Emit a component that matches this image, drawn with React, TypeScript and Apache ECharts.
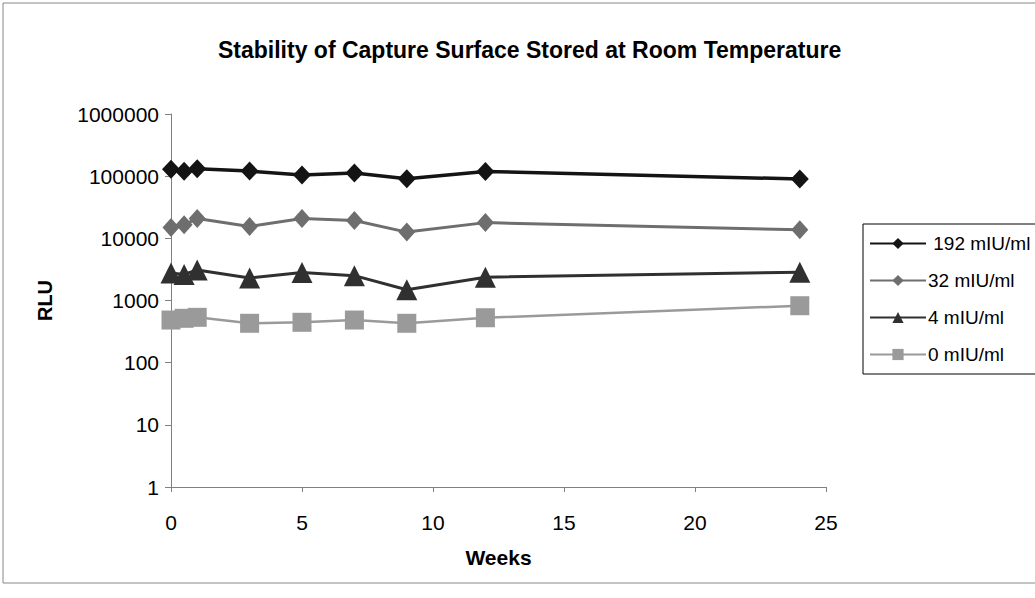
import React, { useEffect, useRef } from "react";
import * as echarts from "echarts";

const weeks = [0, 0.5, 1, 3, 5, 7, 9, 12, 24];
const s192 = [129000, 119700, 132000, 120700, 104000, 112000, 90700, 119000, 90000];
const s32 = [15000, 16600, 20800, 15500, 20800, 19300, 12600, 17900, 13700];
const s4 = [2770, 2620, 3100, 2300, 2820, 2510, 1490, 2370, 2850];
const s0 = [485, 517, 536, 430, 446, 485, 430, 528, 824];
const seriesNames = ["192 mIU/ml", "32 mIU/ml", "4 mIU/ml", "0 mIU/ml"];
const yTicks = [1, 10, 100, 1000, 10000, 100000, 1000000];

const FONT = "'Liberation Sans', Arial, sans-serif";

function pairs(ys: number[]) {
  return weeks.map((w, i) => [w, ys[i]]);
}

export default function App() {
  const ref = useRef<HTMLDivElement>(null);
  useEffect(() => {
    document.body.style.margin = "0";
    const chart = echarts.init(ref.current!, undefined, { renderer: "svg" });
    const styles = [
      { data: s192, color: "#141414", width: 3.5, symbol: "diamond", size: [18, 19] },
      { data: s32, color: "#6e6e6e", width: 3, symbol: "diamond", size: [17, 19] },
      { data: s4, color: "#303030", width: 3, symbol: "triangle", size: [21, 21] },
      { data: s0, color: "#9a9a9a", width: 2.5, symbol: "rect", size: [19, 19] },
    ];
    chart.setOption({
      animation: false,
      backgroundColor: "#ffffff",
      title: {
        text: "Stability of Capture Surface Stored at Room Temperature",
        left: 213,
        top: 33,
        textStyle: { fontFamily: FONT, fontSize: 23, fontWeight: "bold", color: "#000" },
      },
      grid: { left: 171, top: 114, width: 655, height: 373, containLabel: false },
      legend: {
        orient: "vertical",
        left: 863,
        top: 224,
        itemWidth: 56,
        itemHeight: 14,
        itemGap: 18,
        padding: [10, 30, 10, 6],
        borderColor: "#000",
        borderWidth: 1,
        backgroundColor: "#fff",
        textStyle: { fontFamily: FONT, fontSize: 19, color: "#000", padding: [0, 0, 0, -3] },
        formatter: (n: string) => (n.startsWith("192") ? "\u00a0" + n : n),
        data: seriesNames,
      },
      xAxis: {
        type: "value",
        min: 0,
        max: 25,
        interval: 5,
        name: "Weeks",
        nameLocation: "middle",
        nameGap: 60,
        nameTextStyle: { fontFamily: FONT, fontSize: 21, fontWeight: "bold", color: "#000" },
        axisLine: { show: true, onZero: false, lineStyle: { color: "#808080", width: 1 } },
        axisTick: { show: true, length: 5, lineStyle: { color: "#808080" } },
        axisLabel: { fontFamily: FONT, fontSize: 21, color: "#000", margin: 25 },
        splitLine: { show: false },
      },
      yAxis: {
        type: "log",
        logBase: 10,
        min: yTicks[0],
        max: yTicks[yTicks.length - 1],
        name: "RLU",
        nameLocation: "middle",
        nameRotate: 90,
        nameGap: 116,
        nameTextStyle: { fontFamily: FONT, fontSize: 20, fontWeight: "bold", color: "#000" },
        axisLine: { show: true, lineStyle: { color: "#808080", width: 1 } },
        axisTick: { show: true, length: 6, lineStyle: { color: "#808080" } },
        axisLabel: {
          fontFamily: FONT,
          fontSize: 21,
          color: "#000",
          margin: 12,
          formatter: (v: number) => String(Math.round(v)),
        },
        splitLine: { show: false },
      },
      graphic: [
        {
          type: "rect",
          shape: { x: 3, y: 3, width: 1100, height: 580 },
          style: { fill: "none", stroke: "#888", lineWidth: 1 },
          silent: true,
        },
      ],
      series: styles.map((s, i) => ({
        type: "line",
        name: seriesNames[i],
        data: pairs(s.data),
        symbol: s.symbol,
        symbolSize: s.size,
        showSymbol: true,
        lineStyle: { color: s.color, width: s.width },
        itemStyle: { color: s.color, borderWidth: 0 },
        z: 10 - i,
      })),
    });
    return () => chart.dispose();
  }, []);
  return (
    <div
      ref={ref}
      style={{ position: "fixed", left: 0, top: 0, width: 1035, height: 598 }}
    />
  );
}
